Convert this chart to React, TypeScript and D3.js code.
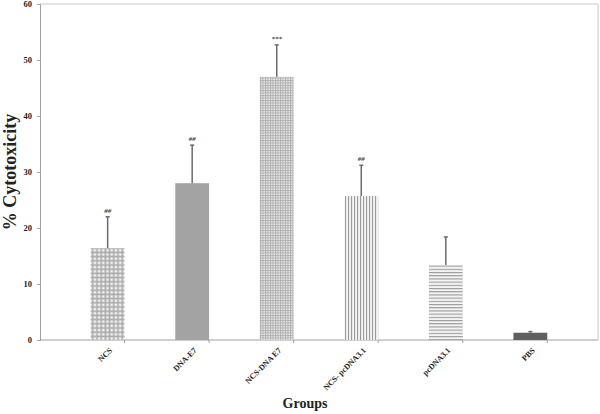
import React, { useEffect, useRef } from 'react';
import * as d3 from 'd3';

const groups = ['NCS', 'DNA-E7', 'NCS-DNA E7', 'NCS- pcDNA3.1', 'pcDNA3.1', 'PBS'];
const means = [16.4, 28.0, 47.0, 25.7, 13.4, 1.3];
const errors = [5.6, 6.8, 5.7, 5.5, 5.0, 0.2];
const marks = ['##', '##', '***', '##', '', ''];
const fills = ['url(#pCheck)', '#a3a3a3', 'url(#pGrid)', 'url(#pVert)', 'url(#pHoriz)', '#5f5f5f'];
const yTicks = [0, 10, 20, 30, 40, 50, 60];

const App = () => {
  const svgRef = useRef<SVGSVGElement>(null);
  const width = 600;
  const height = 414;
  const margin = { top: 4, right: 2, bottom: 74, left: 40 };

  useEffect(() => {
    const svg = d3.select(svgRef.current);
    svg.selectAll('*').remove();

    const defs = svg.append('defs');
    // checkered: grey lines, light squares
    const pc = defs.append('pattern').attr('id', 'pCheck').attr('patternUnits', 'userSpaceOnUse')
      .attr('width', 4.2).attr('height', 4.2);
    pc.append('rect').attr('width', 4.2).attr('height', 4.2).attr('fill', '#ababab');
    pc.append('rect').attr('x', 1.2).attr('y', 1.2).attr('width', 2.6).attr('height', 2.6).attr('fill', '#f0f0f0');
    // fine grid
    const pg = defs.append('pattern').attr('id', 'pGrid').attr('patternUnits', 'userSpaceOnUse')
      .attr('width', 2.5).attr('height', 2.5);
    pg.append('rect').attr('width', 2.5).attr('height', 2.5).attr('fill', '#ececec');
    pg.append('rect').attr('width', 1).attr('height', 2.5).attr('fill', '#b0b0b0');
    pg.append('rect').attr('width', 2.5).attr('height', 1).attr('fill', '#b0b0b0');
    // vertical lines
    const pv = defs.append('pattern').attr('id', 'pVert').attr('patternUnits', 'userSpaceOnUse')
      .attr('width', 3).attr('height', 3);
    pv.append('rect').attr('width', 3).attr('height', 3).attr('fill', '#f4f4f4');
    pv.append('rect').attr('width', 1.1).attr('height', 3).attr('fill', '#9a9a9a');
    // horizontal lines
    const ph = defs.append('pattern').attr('id', 'pHoriz').attr('patternUnits', 'userSpaceOnUse')
      .attr('width', 3).attr('height', 3.2);
    ph.append('rect').attr('width', 3).attr('height', 3.2).attr('fill', '#f4f4f4');
    ph.append('rect').attr('width', 3).attr('height', 1.1).attr('fill', '#9a9a9a');

    const x = d3.scaleBand().domain(groups).range([margin.left, width - margin.right]).padding(0.6);
    const y = d3.scaleLinear().domain([0, 60]).range([height - margin.bottom, margin.top]);
    const font = '"Liberation Serif", "Times New Roman", serif';

    // diagonal baselines for the category labels
    groups.forEach((g, i) => {
      const ex = x(g)! + x.bandwidth() / 2 + 5;
      const ey = y(0) + 11;
      const path = d3.path();
      path.moveTo(ex - 80, ey + 80);
      path.lineTo(ex, ey);
      defs.append('path').attr('id', `lab${i}`).attr('d', path.toString());
    });

    // frame (top and right)
    svg.append('path')
      .attr('d', `M${margin.left},${margin.top}H${width - margin.right}V${height - margin.bottom}`)
      .attr('fill', 'none').attr('stroke', '#c8c8c8').attr('stroke-width', 1);

    // y axis
    const yAxis = svg.append('g').attr('transform', `translate(${margin.left},0)`)
      .call(d3.axisLeft(y).tickValues(yTicks).tickSize(3).tickPadding(5).tickFormat(d3.format('d')));
    yAxis.select('.domain').attr('stroke', '#a0a0a0');
    yAxis.selectAll('.tick line').attr('stroke', '#a0a0a0');
    yAxis.selectAll('text').attr('font-family', font).attr('font-weight', 'bold')
      .attr('font-size', 8.5).attr('fill', '#222');

    // x axis, ticks at band boundaries
    const step = x.step();
    const bounds = groups.map((_, i) => margin.left + step * (i + 1));
    const xg = svg.append('g');
    xg.append('line').attr('x1', margin.left).attr('x2', width - margin.right)
      .attr('y1', y(0)).attr('y2', y(0)).attr('stroke', '#a0a0a0');
    xg.selectAll('line.t').data(bounds).join('line').attr('class', 't')
      .attr('x1', d => d).attr('x2', d => d).attr('y1', y(0)).attr('y2', y(0) + 3)
      .attr('stroke', '#a0a0a0');

    // bars
    svg.selectAll('rect.bar').data(groups).join('rect').attr('class', 'bar')
      .attr('x', d => x(d)!)
      .attr('width', x.bandwidth())
      .attr('y', (_, i) => y(means[i]))
      .attr('height', (_, i) => y(0) - y(means[i]))
      .attr('fill', (_, i) => fills[i]);

    // error bars
    const eg = svg.append('g').attr('stroke', '#6a6a6a').attr('stroke-width', 1.5);
    groups.forEach((g, i) => {
      const cx = x(g)! + x.bandwidth() / 2;
      eg.append('line').attr('x1', cx).attr('x2', cx)
        .attr('y1', y(means[i])).attr('y2', y(means[i] + errors[i]));
      eg.append('line').attr('x1', cx - 2).attr('x2', cx + 2)
        .attr('y1', y(means[i] + errors[i])).attr('y2', y(means[i] + errors[i]));
    });

    // significance marks
    svg.selectAll('text.mark').data(groups).join('text').attr('class', 'mark')
      .attr('x', d => x(d)! + x.bandwidth() / 2)
      .attr('y', (_, i) => y(means[i] + errors[i]) - 4)
      .attr('text-anchor', 'middle')
      .attr('font-family', font).attr('font-style', 'italic').attr('font-weight', 'bold')
      .attr('font-size', 7).attr('fill', '#444')
      .text((_, i) => marks[i]);

    // category labels along the diagonal baselines
    svg.selectAll('text.cat').data(groups).join('text').attr('class', 'cat')
      .attr('font-family', font).attr('font-weight', 'bold').attr('font-size', 8).attr('fill', '#222')
      .append('textPath')
      .attr('href', (_, i) => `#lab${i}`)
      .attr('startOffset', '100%')
      .attr('text-anchor', 'end')
      .text(d => d);

    // axis titles
    svg.append('text')
      .attr('transform', `translate(16,${(margin.top + y(0)) / 2}) rotate(-90)`)
      .attr('text-anchor', 'middle')
      .attr('font-family', font).attr('font-weight', 'bold').attr('font-size', 18).attr('fill', '#222')
      .text('% Cytotoxicity');
    svg.append('text')
      .attr('x', 305).attr('y', 408)
      .attr('text-anchor', 'middle')
      .attr('font-family', font).attr('font-weight', 'bold').attr('font-size', 14).attr('fill', '#222')
      .text('Groups');
  }, []);

  return (
    <svg ref={svgRef} width={width} height={height}
      style={{ position: 'absolute', left: 0, top: 0, background: '#fff' }}>
      <title>% Cytotoxicity by group</title>
    </svg>
  );
};

export default App;
